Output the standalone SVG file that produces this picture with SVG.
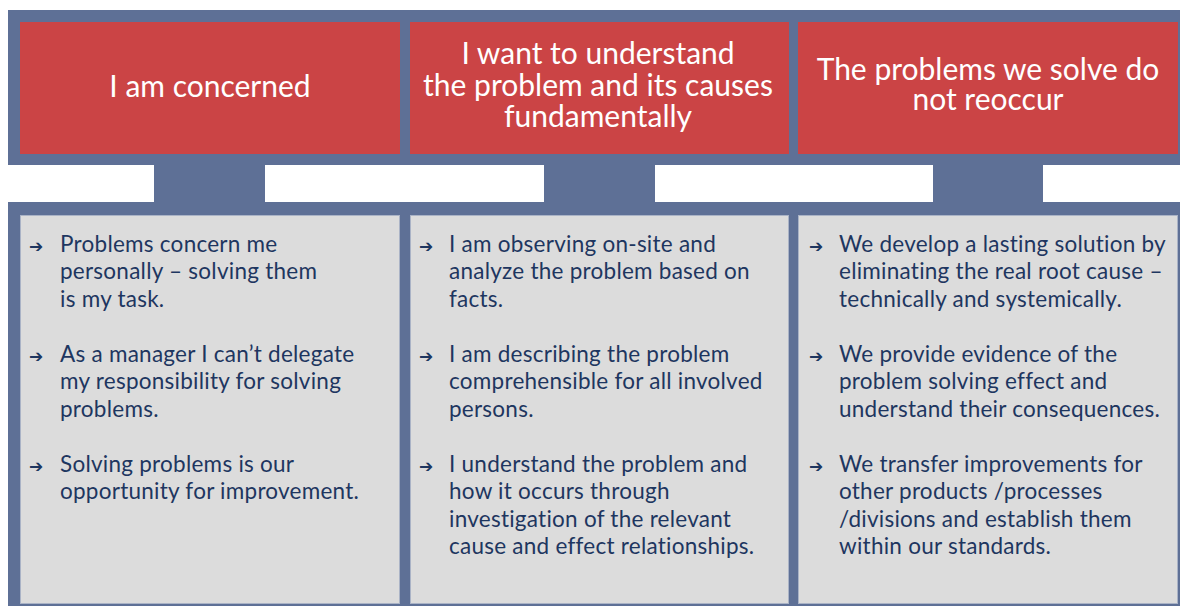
<svg xmlns="http://www.w3.org/2000/svg" width="1180" height="606" viewBox="0 0 1180 606">
<style>
.frame{fill:#5e7096}
.head{fill:#cb4445}
.body{fill:#dcdcdc;stroke:#aab3c6;stroke-width:1}
.ht{font-family:Lato,"Noto Sans",sans-serif;font-size:30px;fill:#ffffff;text-anchor:middle}
.bt{font-family:Lato,"Noto Sans",sans-serif;font-size:22.5px;letter-spacing:0.25px;fill:#1e3660}
.ar{font-family:"DejaVu Sans",sans-serif;font-size:17px;font-weight:bold;fill:#1e3660}
</style>
<rect width="1180" height="606" fill="#ffffff"/>
<g id="frame">
<rect class="frame" x="8" y="10" width="1172" height="155"/>
<rect class="frame" x="8" y="202" width="1172" height="404"/>
</g>
<g id="connectors">
<rect class="frame" x="154" y="154" width="111" height="50"/>
<rect class="frame" x="544" y="154" width="111" height="50"/>
<rect class="frame" x="933" y="154" width="110" height="50"/>
</g>
<g id="col1">
<rect class="head" x="20" y="22" width="380" height="132"/>
<text class="ht" x="210" y="97">I am concerned</text>
<rect class="body" x="20.5" y="215.5" width="379" height="388"/>
<text class="ar" x="29" y="252">➔</text>
<text class="bt" x="60" y="251.5">Problems concern me</text>
<text class="bt" x="60" y="279">personally – solving them</text>
<text class="bt" x="60" y="306.5">is my task.</text>
<text class="ar" x="29" y="362">➔</text>
<text class="bt" x="60" y="361.5">As a manager I can’t delegate</text>
<text class="bt" x="60" y="389">my responsibility for solving</text>
<text class="bt" x="60" y="416.5">problems.</text>
<text class="ar" x="29" y="472">➔</text>
<text class="bt" x="60" y="471.5">Solving problems is our</text>
<text class="bt" x="60" y="499">opportunity for improvement.</text>
</g>
<g id="col2">
<rect class="head" x="410" y="22" width="379" height="132"/>
<text class="ht" x="598" y="64">I want to understand</text>
<text class="ht" x="598" y="96">the problem and its causes</text>
<text class="ht" x="598" y="127">fundamentally</text>
<rect class="body" x="410.5" y="215.5" width="378" height="388"/>
<text class="ar" x="419" y="252">➔</text>
<text class="bt" x="449" y="251.5">I am observing on-site and</text>
<text class="bt" x="449" y="279">analyze the problem based on</text>
<text class="bt" x="449" y="306.5">facts.</text>
<text class="ar" x="419" y="362">➔</text>
<text class="bt" x="449" y="361.5">I am describing the problem</text>
<text class="bt" x="449" y="389">comprehensible for all involved</text>
<text class="bt" x="449" y="416.5">persons.</text>
<text class="ar" x="419" y="472">➔</text>
<text class="bt" x="449" y="471.5">I understand the problem and</text>
<text class="bt" x="449" y="499">how it occurs through</text>
<text class="bt" x="449" y="526.5">investigation of the relevant</text>
<text class="bt" x="449" y="554">cause and effect relationships.</text>
</g>
<g id="col3">
<rect class="head" x="798" y="22" width="380" height="132"/>
<text class="ht" x="988" y="80">The problems we solve do</text>
<text class="ht" x="988" y="110">not reoccur</text>
<rect class="body" x="798.5" y="215.5" width="379" height="388"/>
<text class="ar" x="809" y="252">➔</text>
<text class="bt" x="839" y="251.5">We develop a lasting solution by</text>
<text class="bt" x="839" y="279">eliminating the real root cause –</text>
<text class="bt" x="839" y="306.5">technically and systemically.</text>
<text class="ar" x="809" y="362">➔</text>
<text class="bt" x="839" y="361.5">We provide evidence of the</text>
<text class="bt" x="839" y="389">problem solving effect and</text>
<text class="bt" x="839" y="416.5">understand their consequences.</text>
<text class="ar" x="809" y="472">➔</text>
<text class="bt" x="839" y="471.5">We transfer improvements for</text>
<text class="bt" x="839" y="499">other products /processes</text>
<text class="bt" x="839" y="526.5">/divisions and establish them</text>
<text class="bt" x="839" y="554">within our standards.</text>
</g>
</svg>
